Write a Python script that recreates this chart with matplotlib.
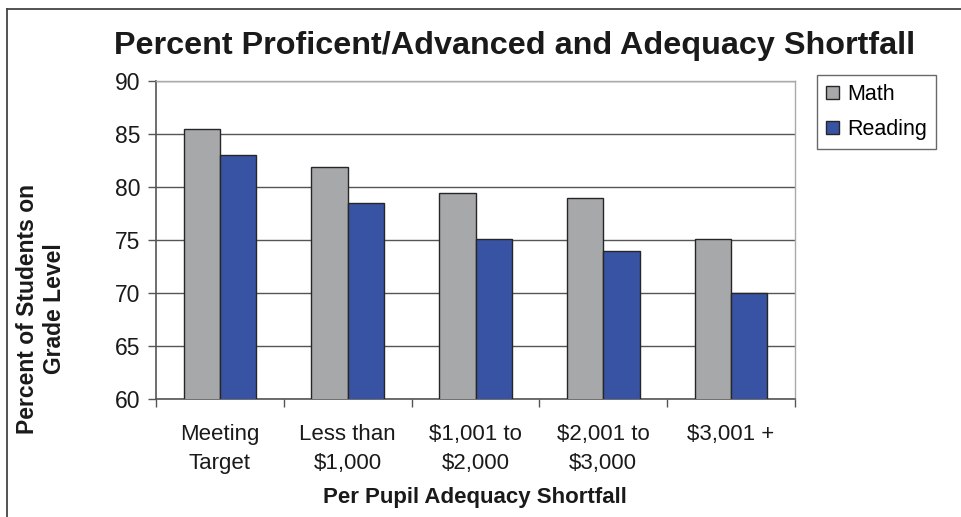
import matplotlib
matplotlib.use("Agg")
import matplotlib.pyplot as plt
from matplotlib.lines import Line2D
import numpy as np

plt.rcParams['font.family'] = ['Liberation Sans', 'DejaVu Sans']

categories = ["Meeting\nTarget", "Less than\n$1,000", "$1,001 to\n$2,000", "$2,001 to\n$3,000", "$3,001 +"]
math_vals = [85.5, 81.9, 79.4, 79.0, 75.1]
reading_vals = [83.0, 78.5, 75.1, 74.0, 70.0]
series_names = ["Math", "Reading"]
yticks = [60, 65, 70, 75, 80, 85, 90]

W, H = 961, 517
fig = plt.figure(figsize=(W / 100, H / 100), dpi=100)
ax = fig.add_axes([156 / W, 1 - 399.3 / H, (795 - 156) / W, (399.3 - 81) / H])

x = np.arange(len(categories))
bw = 0.284
ax.bar(x - bw / 2, math_vals, bw, color="#A7A8AA", edgecolor="#262626", linewidth=1.0, label=series_names[0], zorder=3)
ax.bar(x + bw / 2, reading_vals, bw, color="#3853A4", edgecolor="#262626", linewidth=1.0, label=series_names[1], zorder=3)

ax.set_xlim(-0.5, len(categories) - 0.5)
ax.set_ylim(60, 90)
ax.set_yticks(yticks)
ax.set_yticklabels([str(v) for v in yticks], fontsize=16.5, color="#1a1a1a")
ax.yaxis.grid(True, color="#555555", linewidth=1.0, zorder=0)
ax.set_axisbelow(True)

ax.set_xticks(np.arange(len(categories) + 1) - 0.5)
ax.set_xticklabels([])
ax.set_xticks(x, minor=True)
ax.set_xticklabels(categories, minor=True, fontsize=16, linespacing=1.5, color="#1a1a1a")
ax.tick_params(axis="x", which="minor", length=0, pad=18)
ax.tick_params(axis="x", which="major", length=6, width=1, color="#555555", direction="out")
ax.tick_params(axis="y", length=6, width=1, color="#555555", direction="out", pad=5)

for s in ["left", "bottom"]:
    ax.spines[s].set_color("#555555")
    ax.spines[s].set_linewidth(1.2)
for s in ["top", "right"]:
    ax.spines[s].set_color("#AAAAAA")
    ax.spines[s].set_linewidth(1.0)

fig.text(515 / W, 1 - 46 / H, "Percent Proficent/Advanced and Adequacy Shortfall",
         ha="center", va="center", fontsize=23.3, fontweight="bold", color="#1a1a1a")
fig.text(475 / W, 1 - 498 / H, "Per Pupil Adequacy Shortfall",
         ha="center", va="center", fontsize=16, fontweight="bold", color="#1a1a1a")
fig.text(41 / W, 1 - 309 / H, "Percent of Students on\nGrade Level", rotation=90,
         ha="center", va="center", fontsize=16.5, fontweight="bold", color="#1a1a1a",
         multialignment="center", linespacing=1.2)

leg = fig.legend(loc="upper left", bbox_to_anchor=(817 / W, 1 - 75 / H), fontsize=15.5,
                 frameon=True, fancybox=False, edgecolor="#444444", handlelength=0.6,
                 handleheight=0.6, handletextpad=0.4, borderpad=0.42, labelspacing=0.65,
                 borderaxespad=0)
leg.get_frame().set_linewidth(1.0)

# outer border (top and left)
fig.add_artist(Line2D([7 / W, 1.0], [1 - 9 / H, 1 - 9 / H], color="#444444", linewidth=1.3, transform=fig.transFigure))
fig.add_artist(Line2D([7 / W, 7 / W], [0.0, 1 - 9 / H], color="#444444", linewidth=1.3, transform=fig.transFigure))

fig.savefig("out.png", dpi=100)
